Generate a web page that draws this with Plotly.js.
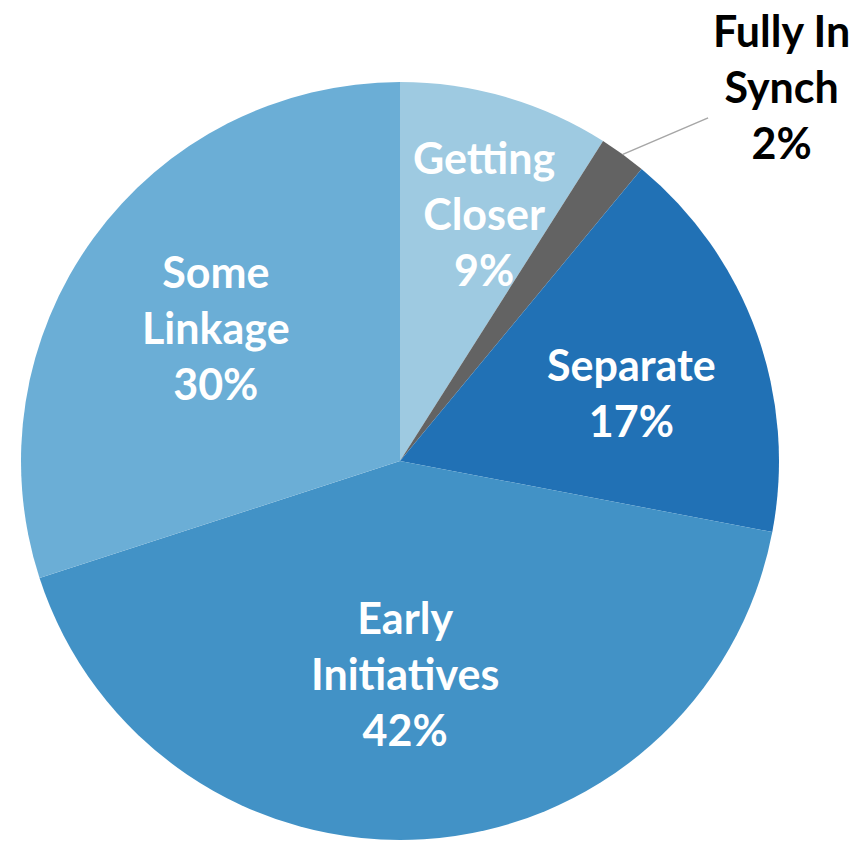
<!DOCTYPE html>
<html>
<head>
<meta charset="utf-8">
<script src="https://cdn.plot.ly/plotly-3.0.1.min.js"></script>
<style>html,body{margin:0;padding:0;background:#fff;}#chart{width:858px;height:843px;}</style>
</head>
<body>
<div id="chart"></div>
<script>
// Data (clockwise from 12 o'clock)
const categories = ["Getting Closer", "Fully In Synch", "Separate", "Early Initiatives", "Some Linkage"];
const labelLines = ["Getting<br>Closer", "Fully In<br>Synch", "Separate", "Early<br>Initiatives", "Some<br>Linkage"];
const values = [9, 2, 17, 42, 30];
const colors = ["#9ecae1", "#636363", "#2171b5", "#4292c6", "#6baed6"];

// style: label placement (fraction of radius, angle shift in degrees)
const labelRadius = [0.69, 1.0, 0.636, 0.56, 0.6];
const labelShift = [2.5, 0, 3.4, 2.3, 0];
const labelInside = [true, false, true, true, true];

const W = 858, H = 843;
const cxPx = 400, cyPx = 461, rPx = 379;
const dom = {
  x: [(cxPx - rPx) / W, (cxPx + rPx) / W],
  y: [1 - (cyPx + rPx) / H, 1 - (cyPx - rPx) / H]
};

const total = values.reduce((a, b) => a + b, 0);
const annotations = [];
let cum = 0;
const fnt = "Lato, 'Open Sans', sans-serif";
values.forEach((v, i) => {
  const midRaw = (cum + v / 2) / total * 2 * Math.PI;
  cum += v;
  const mid = midRaw + labelShift[i] * Math.PI / 180;
  const pct = Math.round(v / total * 100) + "%";
  const txt = "<b>" + labelLines[i] + "<br>" + pct + "</b>";
  const d = labelRadius[i];
  if (labelInside[i]) {
    const x = (cxPx + Math.sin(mid) * rPx * d) / W;
    const y = 1 - (cyPx - Math.cos(mid) * rPx * d) / H;
    annotations.push({
      xref: "paper", yref: "paper", x: x, y: y,
      xanchor: "center", yanchor: "middle",
      text: txt, showarrow: false, align: "center",
      font: {family: fnt, size: 43, color: "#ffffff"}
    });
  } else {
    const x = (cxPx + Math.sin(midRaw) * rPx * d) / W;
    const y = 1 - (cyPx - Math.cos(midRaw) * rPx * d) / H;
    annotations.push({
      xref: "paper", yref: "paper", x: x, y: y,
      text: txt, showarrow: true, arrowhead: 0, arrowwidth: 1.5,
      arrowcolor: "#a6a6a6", standoff: 0, startstandoff: 4,
      ax: 159, ay: -68, align: "center",
      font: {family: fnt, size: 43, color: "#000000"}
    });
  }
});

const trace = {
  type: "pie",
  labels: categories,
  values: values,
  sort: false,
  direction: "clockwise",
  rotation: 0,
  marker: {colors: colors, line: {width: 0}},
  textinfo: "none",
  hoverinfo: "label+percent",
  domain: dom,
  showlegend: false
};

const layout = {
  width: W, height: H,
  margin: {l: 0, r: 0, t: 0, b: 0},
  paper_bgcolor: "#ffffff",
  showlegend: false,
  annotations: annotations
};

Plotly.newPlot("chart", [trace], layout, {displayModeBar: false, staticPlot: true});
</script>
</body>
</html>
